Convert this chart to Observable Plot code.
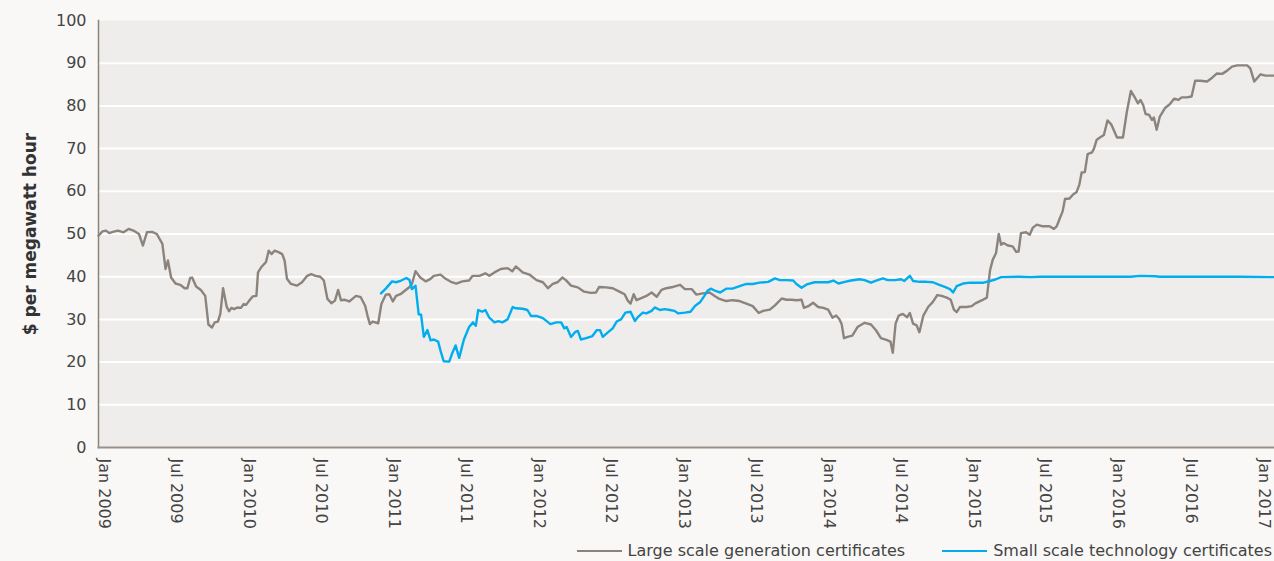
<!DOCTYPE html>
<html>
<head>
<meta charset="utf-8">
<script src="https://cdn.jsdelivr.net/npm/d3@7"></script>
<script src="https://cdn.jsdelivr.net/npm/@observablehq/plot@0.6"></script>
<style>
  html, body { margin: 0; padding: 0; background: #f9f8f6; }
  body { width: 1274px; height: 561px; overflow: hidden; position: relative; font-family: "DejaVu Sans", sans-serif; color: #444; }
  #chart { position: absolute; left: 0; top: 0; }
  #legend { position: absolute; top: 541px; right: 2px; display: flex; align-items: center; font-size: 16px; line-height: 19px; color: #444; }
  .item { display: flex; align-items: center; margin-left: 37px; }
  .sw { width: 45px; height: 2px; margin-right: 6px; }
</style>
</head>
<body>
<div id="chart"></div>
<div id="legend"></div>
<script>
const seriesNames = ["Large scale generation certificates", "Small scale technology certificates"];
const seriesColors = ["#8c847c", "#00aeef"];
const yLabel = "$ per megawatt hour";
const yTicks = [0, 10, 20, 30, 40, 50, 60, 70, 80, 90, 100];
const xTickDates = ["2009-01-01","2009-07-01","2010-01-01","2010-07-01","2011-01-01","2011-07-01","2012-01-01","2012-07-01","2013-01-01","2013-07-01","2014-01-01","2014-07-01","2015-01-01","2015-07-01","2016-01-01","2016-07-01","2017-01-01"];

const lgcDates = ["2009-01-01","2009-01-11","2009-01-20","2009-01-28","2009-02-06","2009-02-19","2009-03-05","2009-03-18","2009-03-30","2009-04-13","2009-04-23","2009-05-03","2009-05-16","2009-05-28","2009-06-11","2009-06-19","2009-06-25","2009-07-03","2009-07-14","2009-07-26","2009-08-06","2009-08-13","2009-08-20","2009-08-25","2009-09-04","2009-09-16","2009-09-27","2009-10-05","2009-10-14","2009-10-21","2009-10-29","2009-11-04","2009-11-11","2009-11-20","2009-11-26","2009-12-02","2009-12-09","2009-12-17","2009-12-26","2010-01-02","2010-01-08","2010-01-16","2010-01-25","2010-02-03","2010-02-07","2010-02-15","2010-02-27","2010-03-06","2010-03-13","2010-03-21","2010-04-01","2010-04-09","2010-04-15","2010-04-21","2010-05-01","2010-05-16","2010-05-29","2010-06-11","2010-06-21","2010-07-02","2010-07-14","2010-07-23","2010-08-01","2010-08-11","2010-08-20","2010-08-28","2010-09-04","2010-09-14","2010-09-25","2010-10-03","2010-10-12","2010-10-24","2010-11-04","2010-11-10","2010-11-16","2010-11-23","2010-12-07","2010-12-15","2010-12-26","2011-01-04","2011-01-13","2011-01-21","2011-02-01","2011-02-12","2011-02-24","2011-03-02","2011-03-11","2011-03-23","2011-04-06","2011-04-18","2011-04-26","2011-05-13","2011-05-26","2011-06-08","2011-06-22","2011-07-07","2011-07-24","2011-08-02","2011-08-19","2011-09-03","2011-09-13","2011-09-26","2011-10-12","2011-10-29","2011-11-10","2011-11-19","2011-12-06","2011-12-23","2012-01-10","2012-01-26","2012-02-08","2012-02-20","2012-03-03","2012-03-15","2012-03-24","2012-04-06","2012-04-23","2012-05-09","2012-05-26","2012-06-08","2012-06-16","2012-07-03","2012-07-20","2012-08-06","2012-08-19","2012-08-27","2012-09-03","2012-09-11","2012-09-18","2012-09-30","2012-10-13","2012-10-26","2012-11-08","2012-11-20","2012-12-02","2012-12-19","2013-01-06","2013-01-18","2013-02-04","2013-02-16","2013-03-04","2013-03-21","2013-04-03","2013-04-15","2013-05-02","2013-05-18","2013-06-05","2013-06-22","2013-07-08","2013-07-23","2013-08-03","2013-08-20","2013-09-02","2013-09-19","2013-10-01","2013-10-14","2013-10-26","2013-11-08","2013-11-14","2013-11-25","2013-12-07","2013-12-20","2014-01-02","2014-01-14","2014-01-25","2014-02-03","2014-02-11","2014-02-17","2014-02-23","2014-03-04","2014-03-16","2014-03-29","2014-04-16","2014-05-02","2014-05-15","2014-05-27","2014-06-10","2014-06-20","2014-06-26","2014-07-03","2014-07-11","2014-07-21","2014-08-01","2014-08-08","2014-08-16","2014-08-25","2014-09-01","2014-09-11","2014-09-23","2014-10-05","2014-10-16","2014-10-27","2014-11-09","2014-11-19","2014-11-27","2014-12-04","2014-12-12","2014-12-29","2015-01-11","2015-01-19","2015-02-06","2015-02-18","2015-02-26","2015-03-05","2015-03-13","2015-03-20","2015-03-26","2015-04-01","2015-04-12","2015-04-24","2015-05-03","2015-05-09","2015-05-15","2015-05-28","2015-06-06","2015-06-14","2015-06-24","2015-07-09","2015-07-26","2015-08-06","2015-08-13","2015-08-21","2015-08-28","2015-09-03","2015-09-14","2015-09-24","2015-10-02","2015-10-09","2015-10-15","2015-10-23","2015-10-30","2015-11-10","2015-11-15","2015-11-22","2015-11-30","2015-12-10","2015-12-19","2015-12-29","2016-01-12","2016-01-27","2016-02-06","2016-02-16","2016-02-27","2016-03-05","2016-03-11","2016-03-18","2016-03-24","2016-04-02","2016-04-09","2016-04-14","2016-04-21","2016-04-29","2016-05-12","2016-05-24","2016-06-04","2016-06-15","2016-06-23","2016-07-06","2016-07-18","2016-07-27","2016-08-09","2016-08-26","2016-09-08","2016-09-20","2016-10-03","2016-10-15","2016-10-28","2016-11-10","2016-11-22","2016-12-05","2016-12-13","2016-12-23","2017-01-08","2017-01-20","2017-02-11"];
const lgcValues = [49.6,50.6,50.8,50.2,50.5,50.8,50.4,51.2,50.8,50.0,47.3,50.4,50.5,50.0,47.7,41.8,43.8,39.8,38.4,38.1,37.3,37.3,39.7,39.8,37.7,36.9,35.5,28.8,28.1,29.3,29.5,31.3,37.3,33.0,31.9,32.7,32.4,32.8,32.7,33.6,33.4,34.4,35.4,35.5,41.0,42.2,43.4,46.1,45.3,46.1,45.7,45.3,43.8,39.5,38.3,37.9,38.7,40.2,40.6,40.2,40.0,39.1,34.8,33.8,34.4,36.9,34.5,34.6,34.2,34.8,35.5,35.2,33.2,30.9,28.9,29.5,29.1,33.6,35.8,35.9,34.2,35.5,35.9,36.7,37.6,38.3,41.3,39.8,38.9,39.5,40.2,40.5,39.5,38.8,38.4,38.9,39.1,40.2,40.2,40.8,40.2,41.0,41.8,42.0,41.3,42.4,41.0,40.5,39.2,38.7,37.3,38.3,38.7,39.8,39.2,37.9,37.5,36.5,36.2,36.3,37.6,37.5,37.3,36.5,35.9,34.4,33.7,35.9,34.5,35.0,35.5,36.3,35.3,36.9,37.3,37.6,38.1,37.1,37.1,35.8,36.1,36.3,35.5,34.8,34.3,34.5,34.3,33.7,33.1,31.5,32.0,32.3,33.3,34.9,34.6,34.6,34.5,34.6,32.7,33.1,33.9,32.9,32.7,32.3,30.4,30.9,30.1,28.9,25.6,25.9,26.2,28.2,29.2,28.8,27.4,25.6,25.2,24.8,22.2,29.0,30.9,31.3,30.5,31.5,29.0,28.6,27.0,30.9,32.9,34.1,35.7,35.5,35.1,34.6,32.3,31.7,32.9,32.9,33.1,33.7,34.5,35.1,41.5,44.0,45.5,50.0,47.5,47.9,47.3,47.1,45.8,45.9,50.2,50.4,49.8,51.5,52.2,51.8,51.8,51.2,51.8,53.7,55.3,58.2,58.3,59.3,59.8,61.5,64.4,64.5,68.7,69.1,70.0,72.1,72.6,73.2,76.6,75.6,72.6,72.6,78.7,83.5,81.8,80.6,81.4,80.2,78.1,77.9,76.7,77.3,74.4,77.5,79.5,80.4,81.7,81.4,82.0,82.0,82.2,85.9,85.9,85.7,86.6,87.6,87.5,88.2,89.2,89.5,89.5,89.5,88.8,85.7,87.4,87.1,87.1];

const stcDates = ["2010-12-14","2010-12-26","2011-01-11","2011-01-21","2011-02-03","2011-02-16","2011-02-24","2011-03-02","2011-03-11","2011-03-19","2011-03-25","2011-04-01","2011-04-10","2011-04-18","2011-04-26","2011-05-07","2011-05-13","2011-05-21","2011-06-04","2011-06-12","2011-06-20","2011-06-29","2011-07-11","2011-07-24","2011-08-03","2011-08-10","2011-08-16","2011-08-26","2011-09-03","2011-09-13","2011-09-26","2011-10-06","2011-10-16","2011-10-29","2011-11-11","2011-11-19","2011-12-06","2011-12-18","2011-12-27","2012-01-10","2012-01-26","2012-02-14","2012-02-29","2012-03-12","2012-03-20","2012-03-26","2012-04-06","2012-04-17","2012-04-23","2012-05-01","2012-05-14","2012-05-30","2012-06-10","2012-06-18","2012-06-25","2012-07-07","2012-07-20","2012-07-30","2012-08-10","2012-08-21","2012-09-03","2012-09-14","2012-09-22","2012-10-04","2012-10-13","2012-10-26","2012-11-03","2012-11-16","2012-11-28","2012-12-11","2012-12-23","2013-01-01","2013-01-18","2013-02-01","2013-02-13","2013-02-25","2013-03-08","2013-03-16","2013-03-24","2013-04-07","2013-04-17","2013-05-02","2013-05-18","2013-06-05","2013-06-22","2013-07-08","2013-07-25","2013-08-16","2013-09-02","2013-09-14","2013-10-01","2013-10-18","2013-10-26","2013-11-08","2013-11-21","2013-12-11","2014-01-02","2014-01-14","2014-01-27","2014-02-09","2014-02-25","2014-03-13","2014-04-03","2014-04-16","2014-05-02","2014-05-15","2014-06-01","2014-06-13","2014-07-01","2014-07-17","2014-07-25","2014-08-08","2014-08-16","2014-09-02","2014-09-19","2014-10-05","2014-10-18","2014-11-04","2014-11-17","2014-11-25","2014-12-04","2014-12-20","2015-01-07","2015-01-23","2015-02-10","2015-02-26","2015-03-13","2015-03-26","2015-05-11","2015-06-08","2015-07-01","2015-09-16","2015-11-30","2016-02-15","2016-03-10","2016-04-17","2016-04-29","2016-08-09","2016-11-18","2017-02-11"];
const stcValues = [36.1,37.2,38.9,38.7,39.1,39.7,39.2,37.1,37.9,31.2,31.1,25.9,27.5,25.1,25.3,24.8,22.7,20.2,20.1,22.2,23.9,21.0,25.3,28.2,29.3,28.5,32.2,31.8,32.2,30.4,29.3,29.6,29.3,30.0,32.9,32.6,32.5,32.2,30.8,30.8,30.3,28.9,29.3,29.3,27.9,28.2,25.9,27.1,27.3,25.3,25.6,26.1,27.5,27.5,25.9,26.9,27.9,29.5,30.0,31.6,31.8,29.6,30.6,31.6,31.4,32.0,32.8,32.2,32.4,32.2,32.0,31.4,31.6,31.8,33.2,34.0,35.5,36.7,37.2,36.6,36.3,37.2,37.2,37.8,38.3,38.3,38.6,38.8,39.6,39.2,39.2,39.1,38.3,37.4,38.2,38.7,38.7,38.7,39.1,38.4,38.8,39.1,39.4,39.2,38.6,39.1,39.6,39.2,39.2,39.4,39.0,40.2,39.0,38.8,38.8,38.7,38.2,37.6,37.1,36.3,37.8,38.4,38.6,38.6,38.6,39.0,39.4,39.9,40.0,39.9,40.0,40.0,40.0,40.0,40.2,40.1,40.0,40.0,40.0,39.9];

const parse = d3.utcParse("%Y-%m-%d");
const rows = [
  ...lgcDates.map((d, i) => ({date: parse(d), value: lgcValues[i], series: seriesNames[0]})),
  ...stcDates.map((d, i) => ({date: parse(d), value: stcValues[i], series: seriesNames[1]}))
];

const chart = Plot.plot({
  width: 1274,
  height: 540,
  marginLeft: 98,
  marginRight: 0,
  marginTop: 20,
  marginBottom: 93,
  style: {background: "transparent", fontFamily: "DejaVu Sans, sans-serif", fontSize: "16px", color: "#444"},
  x: {type: "utc", domain: [parse("2009-01-01"), parse("2017-02-12")]},
  y: {domain: [0, 100]},
  color: {domain: seriesNames, range: seriesColors},
  marks: [
    Plot.frame({fill: "#eeedeb", stroke: null}),
    Plot.gridY(yTicks.filter(t => t > 0 && t < 100), {stroke: "#ffffff", strokeOpacity: 1, strokeWidth: 2}),
    Plot.axisY(yTicks, {tickSize: 0, tickPadding: 12, label: null, fontSize: 16, fill: "#444"}),
    Plot.text([yLabel], {frameAnchor: "left", textAnchor: "middle", rotate: -90, dx: -68, fontWeight: "bold", fontSize: 17, fill: "#333"}),
    Plot.axisX(xTickDates.map(parse), {tickRotate: 90, tickSize: 0, tickPadding: 11, dx: 6, tickFormat: d3.utcFormat("%b %Y"), label: null, fontSize: 16, fill: "#444"}),
    Plot.frame({anchor: "left", stroke: "#8c8279", strokeWidth: 1.5}),
    Plot.frame({anchor: "bottom", stroke: "#9a918a", strokeWidth: 2}),
    Plot.line(rows, {x: "date", y: "value", z: "series", stroke: "series", strokeWidth: 2.4, curve: "linear"})
  ]
});
document.getElementById("chart").appendChild(chart);

const legend = document.getElementById("legend");
seriesNames.forEach((name, i) => {
  const item = document.createElement("div");
  item.className = "item";
  const sw = document.createElement("span");
  sw.className = "sw";
  sw.style.background = seriesColors[i];
  const tx = document.createElement("span");
  tx.textContent = name;
  item.appendChild(sw);
  item.appendChild(tx);
  legend.appendChild(item);
});
</script>
</body>
</html>
